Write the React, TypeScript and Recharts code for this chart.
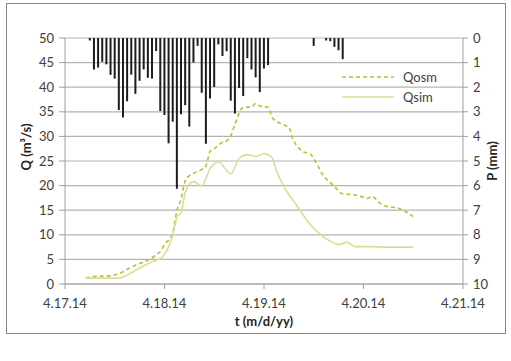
import { ComposedChart, Bar, Line, XAxis, YAxis, CartesianGrid, Legend } from "recharts";

// time axis in hours since 4.17.14 00:00
const dayTicks = [0, 24, 48, 72, 96];
const dayLabels = ["4.17.14", "4.18.14", "4.19.14", "4.20.14", "4.21.14"];
const qTicks = [0, 5, 10, 15, 20, 25, 30, 35, 40, 45, 50];
const pTicks = [0, 1, 2, 3, 4, 5, 6, 7, 8, 9, 10];

// hourly rainfall P (mm)
const rainHours = [
  6, 7, 8, 9, 10, 11, 12, 13, 14, 15, 16, 17, 18, 19, 20, 21, 22, 23, 24, 25,
  26, 27, 28, 29, 30, 31, 32, 33, 34, 35, 36, 37, 38, 39, 40, 41, 42, 43, 44, 45,
  46, 47, 48, 49, 60, 63, 64, 65, 66, 67,
];
const rainMm = [
  0.1, 1.28, 1.2, 0.97, 1.07, 1.5, 1.65, 2.93, 3.23, 2.57, 1.49, 2.27, 1.74, 1.28, 1.62, 1.65, 0.53, 2.97, 3.13, 4.28,
  3.4, 6.13, 3.1, 2.73, 3.6, 1.0, 0.32, 2.23, 4.3, 2.46, 1.99, 0.26, 0.73, 0.54, 2.55, 3.07, 2.03, 2.36, 0.82, 1.28,
  1.6, 2.2, 1.24, 1.1, 0.32, 0.1, 0.13, 0.36, 0.5, 0.86,
];

// observed discharge Qosm (m3/s)
const osmHours = [
  5, 7, 9, 11, 13, 15, 17, 19, 21, 22, 23, 24, 26, 27, 28, 29, 30, 31, 33, 34,
  35, 36, 38, 39, 40, 41, 43, 45, 46, 47, 49, 50, 52, 54, 55, 58, 59, 61, 62, 64,
  65, 67, 69, 71, 73, 74, 76, 78, 80, 82, 84,
];
const osmQ = [
  1.2, 1.5, 1.6, 1.7, 2.1, 3.0, 3.8, 4.5, 5.3, 6.0, 6.6, 8.0, 10.4, 15.0, 17.3, 21.0, 22.0, 22.5, 23.3, 24.0,
  27.0, 27.5, 28.8, 29.1, 30.1, 32.5, 35.9, 36.0, 36.7, 36.2, 35.9, 33.8, 32.6, 31.8, 29.4, 26.7, 26.5, 24.0, 22.4, 20.6,
  19.8, 18.3, 18.2, 17.9, 17.4, 17.8, 16.4, 15.7, 15.5, 14.8, 13.7,
];

// simulated discharge Qsim (m3/s)
const simHours = [
  5, 13, 15, 17, 19, 21, 23, 24, 25, 26, 27, 28, 29, 30, 31, 33, 34, 35, 36, 37,
  40, 42, 44, 46, 48, 50, 51, 53, 54, 55, 57, 59, 62, 64, 66, 68, 70, 74, 78, 84,
];
const simQ = [
  1.2, 1.2, 1.8, 2.8, 3.7, 4.5, 5.2, 6.0, 7.6, 10.0, 13.5, 14.6, 18.6, 20.3, 20.8, 19.9, 21.5, 23.5, 24.4, 24.8,
  22.4, 25.5, 26.3, 25.9, 26.5, 25.6, 23.0, 19.5, 18.2, 17.0, 14.6, 12.2, 9.8, 8.7, 8.0, 8.5, 7.6, 7.6, 7.5, 7.5,
];

type Row = { t: number; p?: number; qosm?: number; qsim?: number };

const allHours = Array.from(new Set([...rainHours, ...osmHours, ...simHours])).sort((a, b) => a - b);
const data: Row[] = allHours.map((t) => {
  const row: Row = { t };
  const ri = rainHours.indexOf(t);
  const oi = osmHours.indexOf(t);
  const si = simHours.indexOf(t);
  if (ri >= 0) row.p = rainMm[ri];
  if (oi >= 0) row.qosm = osmQ[oi];
  if (si >= 0) row.qsim = simQ[si];
  return row;
});

const FONT = "Lato, 'Open Sans', sans-serif";
const tickStyle = { fill: "#404040", fontSize: 13, fontFamily: FONT };
const axisStroke = "#9e9e9e";

const series = [
  { name: "Qosm", color: "#bdbd2e", dash: "4 3" },
  { name: "Qsim", color: "#dcdc98", dash: undefined },
];

function LegendBox() {
  return (
    <div style={{ fontFamily: FONT, fontSize: 13, color: "#404040" }}>
      {series.map((s) => (
        <div key={s.name} style={{ display: "flex", alignItems: "center", height: 20 }}>
          <svg width={54} height={6}>
            <line x1={0} y1={3} x2={52} y2={3} stroke={s.color} strokeWidth={1.6} strokeDasharray={s.dash} />
          </svg>
          <span style={{ marginLeft: 7 }}>{s.name}</span>
        </div>
      ))}
    </div>
  );
}

function AxisTitle(props: any) {
  const { viewBox, text, dx = 0, dy = 0, rotate = false } = props;
  const x = viewBox.x + dx;
  const y = viewBox.y + dy;
  return (
    <text
      x={x}
      y={y}
      textAnchor="middle"
      dominantBaseline="central"
      transform={rotate ? `rotate(-90 ${x} ${y})` : undefined}
      style={{ fontFamily: FONT, fontSize: 13, fontWeight: 700, fill: "#262626" }}
    >
      {text}
    </text>
  );
}

export default function App() {
  return (
    <div style={{ position: "absolute", left: 0, top: 0, width: 511, height: 361, background: "#fff" }}>
      <div
        style={{
          position: "absolute", left: 6, top: 3, width: 498, height: 329,
          border: "1px solid #868686",
        }}
      />
      <ComposedChart
        width={511}
        height={361}
        data={data}
        margin={{ top: 38, right: 0, bottom: 47, left: 0 }}
        style={{ position: "absolute", left: 0, top: 0 }}
      >
        <CartesianGrid yAxisId="q" vertical={false} stroke="#b4b4b4" strokeWidth={1.2} />
        <XAxis
          dataKey="t"
          type="number"
          domain={[0, 96]}
          ticks={dayTicks}
          tickFormatter={(v: number) => dayLabels[dayTicks.indexOf(v)]}
          height={30}
          tick={tickStyle}
          tickSize={5}
          tickMargin={10}
          stroke={axisStroke}
          interval={0}
          label={{ content: (p: any) => <AxisTitle {...p} text="t (m/d/yy)" dx={p.viewBox.width / 2} dy={37} /> }}
        />
        <YAxis
          yAxisId="q"
          domain={[0, 50]}
          ticks={qTicks}
          width={65}
          tick={tickStyle}
          tickSize={6}
          tickMargin={5}
          stroke={axisStroke}
          interval={0}
          label={{ content: (p: any) => <AxisTitle {...p} text="Q (m³/s)" dx={26} dy={p.viewBox.height / 2 - 14} rotate /> }}
        />
        <YAxis
          yAxisId="p"
          orientation="right"
          reversed
          domain={[0, 10]}
          ticks={pTicks}
          width={48}
          tick={tickStyle}
          tickSize={5}
          tickMargin={5}
          stroke={axisStroke}
          interval={0}
          label={{ content: (p: any) => <AxisTitle {...p} text="P (mm)" dx={29} dy={p.viewBox.height / 2} rotate /> }}
        />
        <Bar yAxisId="p" dataKey="p" fill="#1c1c1c" barSize={2} isAnimationActive={false} legendType="none" />
        <Line
          yAxisId="q"
          type="monotone"
          dataKey="qosm"
          name="Qosm"
          stroke={series[0].color}
          strokeWidth={1.6}
          strokeDasharray={series[0].dash}
          dot={false}
          connectNulls
          isAnimationActive={false}
        />
        <Line
          yAxisId="q"
          type="monotone"
          dataKey="qsim"
          name="Qsim"
          stroke={series[1].color}
          strokeWidth={1.6}
          dot={false}
          connectNulls
          isAnimationActive={false}
        />
        <Legend
          content={() => <LegendBox />}
          layout="horizontal"
          verticalAlign="middle"
          align="center"
          wrapperStyle={{ left: 342, top: 67, width: 120 }}
        />
      </ComposedChart>
    </div>
  );
}
